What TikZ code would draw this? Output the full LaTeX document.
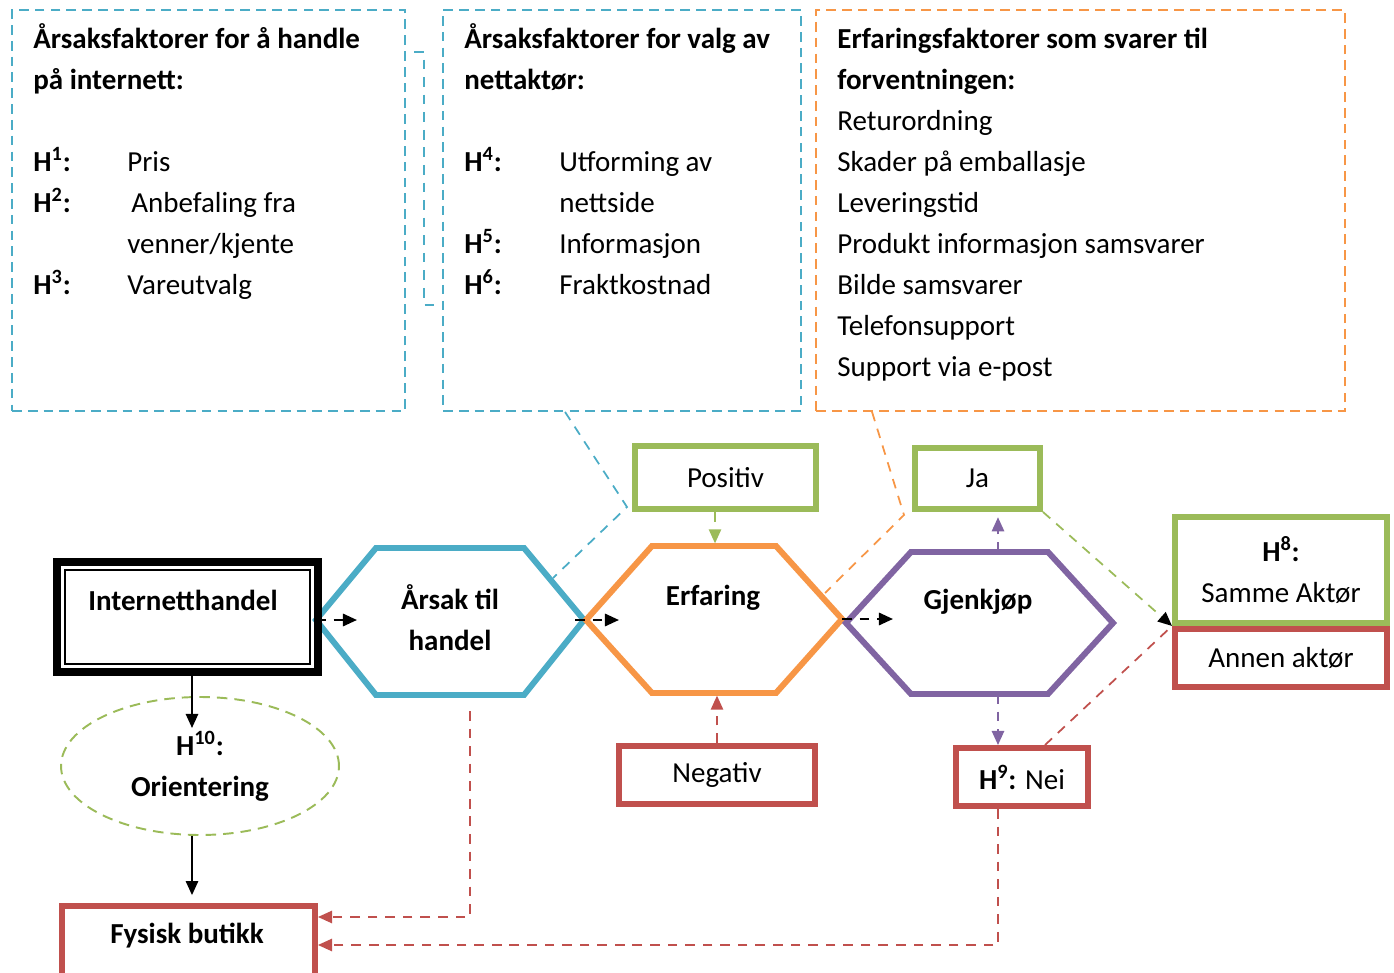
\documentclass[tikz,border=0pt]{standalone}
\usepackage{fontspec}
\setmainfont{Carlito}
\usetikzlibrary{arrows.meta,shapes.geometric}

\definecolor{cyanc}{HTML}{4BACC6}
\definecolor{orangec}{HTML}{F79646}
\definecolor{greenc}{HTML}{9BBB59}
\definecolor{redc}{HTML}{C0504D}
\definecolor{purplec}{HTML}{8064A2}

\tikzset{
  every node/.style={inner sep=0pt, font=\fontsize{16.5}{23.3}\selectfont},
  factorbox/.style={draw, line width=1.1pt, dash pattern=on 5.5pt off 3.5pt},
  hexline/.style={line width=3.4pt, line join=miter},
  colbox/.style={draw=#1, line width=3.4pt, text=black, align=center},
  boldlabel/.style={align=center, font=\fontsize{16.5}{23.3}\selectfont\bfseries},
  link/.style={line width=1pt, dash pattern=on 5.5pt off 4.5pt},
  tip/.style={-{Triangle[length=8pt,width=7pt]}},
}

\begin{document}
\begin{tikzpicture}[x=0.02cm,y=-0.02cm]
\useasboundingbox (0,0) rectangle (1394,973);

% Factor boxes
\node[factorbox, cyanc, minimum width=7.86cm, minimum height=8.02cm] (boxA) at (208.5,210.5) {};
\node[factorbox, cyanc, minimum width=7.16cm, minimum height=8.02cm] (boxB) at (622,210.5) {};
\node[factorbox, orangec, minimum width=10.58cm, minimum height=8.02cm] (boxC) at (1080.5,210.5) {};

\node[anchor=base west] (boxAtxt) at (33,49) {\begin{tabular}[t]{@{}p{1.88cm}@{}l@{}}
\multicolumn{2}{@{}l@{}}{\textbf{Årsaksfaktorer for å handle}}\\
\multicolumn{2}{@{}l@{}}{\textbf{på internett:}}\\
 & \\
\textbf{H\textsuperscript{1}:} & Pris\\
\textbf{H\textsuperscript{2}:} & \hspace{2.3pt}Anbefaling fra\\
 & venner/kjente\\
\textbf{H\textsuperscript{3}:} & Vareutvalg
\end{tabular}};

\node[anchor=base west] (boxBtxt) at (464,49) {\begin{tabular}[t]{@{}p{1.9cm}@{}l@{}}
\multicolumn{2}{@{}l@{}}{\textbf{Årsaksfaktorer for valg av}}\\
\multicolumn{2}{@{}l@{}}{\textbf{nettaktør:}}\\
 & \\
\textbf{H\textsuperscript{4}:} & Utforming av\\
 & nettside\\
\textbf{H\textsuperscript{5}:} & Informasjon\\
\textbf{H\textsuperscript{6}:} & Fraktkostnad
\end{tabular}};

\node[anchor=base west] (boxCtxt) at (837,49) {\begin{tabular}[t]{@{}l@{}}
\textbf{Erfaringsfaktorer som svarer til}\\
\textbf{forventningen:}\\
Returordning\\
Skader på emballasje\\
Leveringstid\\
Produkt informasjon samsvarer\\
Bilde samsvarer\\
Telefonsupport\\
Support via e-post
\end{tabular}};

% Bracket between the two cyan boxes
\coordinate (brk) at (414,52);
\draw[link, cyanc] (brk) -- (424,52) -- (424,305) -- (boxB.west |- 0,305);

% Hexagons
\coordinate (arsakW) at (316,620);
\coordinate (arsakE) at (584,620);
\coordinate (arsakS) at (470,711);
\draw[hexline, cyanc] (arsakW) -- (376,548) -- (524,548) -- (arsakE) -- (524,695) -- (376,695) -- cycle;

\coordinate (erfE) at (842,619);
\coordinate (erfN) at (715,546);
\coordinate (erfS) at (717,693);
\draw[hexline, orangec] (586,620) -- (652,546) -- (776,546) -- (erfE) -- (776,693) -- (652,693) -- cycle;

\coordinate (gjN) at (998,552);
\coordinate (gjS) at (998,694);
\draw[hexline, purplec] (846,623) -- (911,552) -- (1048,552) -- (1113,623) -- (1048,694) -- (911,694) -- cycle;

\node[boldlabel] (arsakTxt) at (450,618) {Årsak til\\handel};
\node[boldlabel] (erfTxt) at (713,598) {Erfaring};
\node[boldlabel] (gjTxt) at (978,602) {Gjenkjøp};

% Internetthandel
\node[draw, line width=4.5pt, minimum width=5.22cm, minimum height=2.2cm] (net) at (187.5,617) {};
\draw[line width=1.1pt] ([xshift=6.8pt,yshift=-6.8pt]net.north west) rectangle ([xshift=-6.8pt,yshift=6.8pt]net.south east);
\node[boldlabel] (netTxt) at (183,600) {Internetthandel};

% Orientering and Fysisk butikk
\node[draw=greenc, ellipse, line width=1.1pt, dash pattern=on 6pt off 4pt,
  minimum width=5.56cm, minimum height=2.76cm, boldlabel] (ori) at (200,766) {H\textsuperscript{10}:\\Orientering};
\node[colbox=redc, minimum width=5.06cm, minimum height=2.4cm] (fys) at (188.5,966) {};
\node[boldlabel] (fysTxt) at (187,936) {Fysisk butikk};

% Outcome boxes
\node[colbox=greenc, minimum width=3.62cm, minimum height=1.26cm] (pos) at (725.5,477.5) {Positiv};
\node[colbox=greenc, minimum width=2.5cm, minimum height=1.22cm] (ja) at (977.5,478.5) {Ja};
\node[colbox=redc, minimum width=3.92cm, minimum height=1.16cm] (neg) at (717,775) {Negativ};
\node[colbox=redc, minimum width=2.64cm, minimum height=1.16cm] (nei) at (1022,777) {\textbf{H\textsuperscript{9}:} Nei};
\node[colbox=greenc, minimum width=4.24cm, minimum height=2.12cm] (same) at (1281,570) {\textbf{H\textsuperscript{8}:}\\Samme Aktør};
\node[colbox=redc, minimum width=4.24cm, minimum height=1.16cm] (annen) at (1281,658) {Annen aktør};

% Leaders from the factor boxes
\draw[link, cyanc] ([xshift=-1.14cm]boxB.south) -- (627,507) -- (553,578);
\draw[link, orangec] ([xshift=-4.17cm]boxC.south) -- (904,515) -- (825,593);

% Main flow
\coordinate (arsakIn) at (357,620);
\coordinate (erfIn) at (619,620);
\coordinate (gjIn) at (893,619);
\draw[link, black, line width=1.3pt, tip] (arsakW) -- (arsakIn);
\draw[link, black, line width=1.3pt, tip] ([xshift=-5pt]arsakE) -- (erfIn);
\draw[link, black, line width=1.3pt, tip] (erfE) -- (gjIn);

% Positiv / Negativ into Erfaring
\draw[link, greenc, tip, shorten >=1.5pt] (pos.south -| erfN) -- (erfN);
\draw[link, redc, tip, shorten >=1.5pt] (neg.north -| erfS) -- (erfS);

% Gjenkjøp: ja / nei
\draw[link, purplec, tip, shorten >=3pt] (gjN) -- (ja.south -| gjN);
\draw[link, purplec, tip] (gjS) -- (nei.north -| gjS);

% Towards the actor boxes
\draw[link, greenc, -{Triangle[length=8pt,width=7pt,color=black]}] (ja.south east) -- (same.south west);
\draw[link, redc] ([xshift=0.46cm]nei.north) -- (same.south west);

% Internetthandel -> Orientering -> Fysisk butikk
\coordinate (oriIn) at (192,728);
\draw[line width=1.1pt, tip] (net.south -| oriIn) -- (oriIn);
\draw[line width=1.1pt, tip, shorten >=4.5pt] (ori.south -| oriIn) -- (fys.north -| oriIn);

% Back to Fysisk butikk
\coordinate (retA) at (0,917);
\coordinate (retB) at (0,945);
\draw[link, redc, tip] (arsakS) |- (fys.east |- retA);
\draw[link, redc, tip] (nei.south -| gjS) |- (fys.east |- retB);

\end{tikzpicture}
\end{document}
